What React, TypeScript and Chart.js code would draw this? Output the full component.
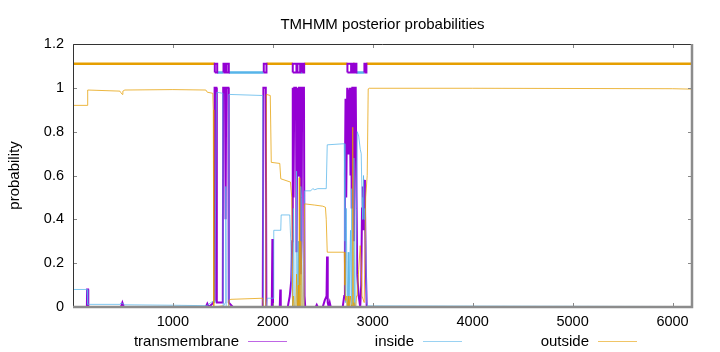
import { useEffect, useRef } from "react";
import { Chart, registerables } from "chart.js";

Chart.register(...registerables);

// ---------- text ----------
const chartTitle = "TMHMM posterior probabilities";
const yAxisTitle = "probability";
const seriesNames = ["transmembrane", "inside", "outside"];

// ---------- axes ----------
const xRange = [1, 6195];
const yRange = [0, 1.2];
const xTickValues = [1000, 2000, 3000, 4000, 5000, 6000];
const yTickValues = [0, 0.2, 0.4, 0.6, 0.8, 1, 1.2];
const yTickLabels = ["0", "0.2", "0.4", "0.6", "0.8", "1", "1.2"];

// ---------- posterior probability curves [position, probability] ----------
const tmCurve: [number, number][] = [
  [1, 0], [140, 0], [142, 0.08], [152, 0.08], [154, 0],
  [480, 0], [495, 0.02], [510, 0],
  [1330, 0], [1345, 0.015], [1360, 0], [1385, 0.01], [1405, 0.02], [1415, 0.03],
  [1418, 1.0], [1436, 1.0], [1440, 0.02],
  [1500, 0.02], [1504, 1.0], [1524, 1.0], [1528, 0.4], [1534, 1.0], [1556, 1.0], [1560, 0.02],
  [1600, 0], [1900, 0], [1906, 1.0], [1930, 1.0], [1936, 0],
  [1990, 0], [1996, 0.31], [2002, 0],
  [2070, 0], [2075, 0.08], [2080, 0],
  [2150, 0], [2170, 0.05], [2185, 0.12], [2195, 0.3], [2200, 1.0], [2208, 0.5], [2215, 1.0],
  [2232, 1.0], [2238, 0.25], [2247, 1.0], [2256, 0.6], [2262, 1.0], [2274, 1.0], [2280, 0.15],
  [2288, 0.3], [2294, 1.0], [2312, 1.0], [2318, 0.05], [2325, 0],
  [2430, 0], [2440, 0.01], [2450, 0],
  [2500, 0], [2520, 0.03], [2538, 0.05], [2543, 0.23], [2550, 0.02], [2560, 0], [2570, 0.02], [2580, 0],
  [2700, 0], [2715, 0.05], [2722, 0.6], [2728, 0.95], [2735, 0.5], [2745, 1.0], [2755, 0.7],
  [2762, 0.98], [2770, 1.0], [2778, 0.6], [2784, 1.0], [2790, 0.45], [2796, 1.0], [2806, 1.0],
  [2812, 0.3], [2818, 1.0], [2830, 1.0], [2838, 0.5], [2845, 0.15], [2860, 0.05], [2875, 0],
  [2885, 0.1], [2893, 0.45], [2900, 0.55], [2908, 0.35], [2915, 0.58], [2922, 0.5], [2930, 0.2],
  [2940, 0], [6195, 0],
];

const insideCurve: [number, number][] = [
  [1, 0.08], [142, 0.08], [148, 0.012], [470, 0.012], [480, 0.018], [500, 0.015], [520, 0.01],
  [1000, 0.008], [1340, 0.006], [1380, 0.02], [1415, 0.03], [1420, 0.02], [1436, 0.97],
  [1440, 0.98], [1500, 0.975], [1504, 0.0], [1525, 0.02], [1530, 0.55], [1534, 0.0], [1556, 0.0],
  [1560, 0.97], [1900, 0.965], [1906, 0.0], [1936, 0.0], [1945, 0.04], [2005, 0.04], [2010, 0.35],
  [2080, 0.35], [2084, 0.42], [2170, 0.42], [2180, 0.3], [2190, 0.1], [2200, 0], [2208, 0.45],
  [2215, 0.0], [2232, 0], [2238, 0.62], [2247, 0], [2256, 0.3], [2262, 0], [2274, 0], [2280, 0.55],
  [2288, 0.5], [2294, 0], [2312, 0], [2318, 0.53], [2380, 0.53], [2400, 0.54], [2420, 0.535],
  [2450, 0.54], [2535, 0.54], [2545, 0.74], [2715, 0.745], [2722, 0.3], [2728, 0.02], [2735, 0.45],
  [2745, 0], [2755, 0.25], [2762, 0], [2778, 0.35], [2784, 0], [2790, 0.54], [2796, 0], [2806, 0],
  [2812, 0.68], [2818, 0], [2830, 0], [2838, 0.45], [2845, 0.8], [2860, 0.78], [2875, 0.72],
  [2885, 0.7], [2893, 0.5], [2900, 0.4], [2908, 0.6], [2915, 0.4], [2922, 0.45], [2930, 0.3],
  [2940, 0.02], [2950, 0.005], [6195, 0.002],
];

const outsideCurve: [number, number][] = [
  [1, 0.92], [142, 0.92], [148, 0.99], [470, 0.985], [480, 0.978], [495, 0.97], [500, 0.985],
  [520, 0.99], [1000, 0.992], [1330, 0.99], [1345, 0.98], [1400, 0.975], [1405, 0.9], [1410, 0.0],
  [1500, 0.005], [1504, 0], [1556, 0], [1560, 0.03], [1580, 0.035], [1900, 0.04], [1906, 0],
  [1930, 0], [1936, 0.97], [1975, 0.965], [1985, 0.66], [2070, 0.655], [2080, 0.585], [2177, 0.57],
  [2190, 0.5], [2200, 0], [2208, 0.05], [2215, 0], [2232, 0], [2238, 0.15], [2247, 0], [2256, 0.1],
  [2262, 0], [2265, 0.59], [2270, 0.1], [2274, 0], [2280, 0.3], [2288, 0.2], [2294, 0], [2312, 0],
  [2318, 0.47], [2330, 0.47], [2420, 0.465], [2500, 0.46], [2527, 0.455], [2535, 0.4], [2545, 0.25],
  [2715, 0.25], [2722, 0.1], [2728, 0.03], [2735, 0.05], [2745, 0], [2755, 0.05], [2762, 0],
  [2778, 0.05], [2784, 0], [2790, 0.01], [2796, 0], [2800, 0.82], [2806, 0], [2812, 0.02], [2818, 0],
  [2830, 0], [2838, 0.05], [2845, 0.05], [2860, 0.17], [2875, 0.28], [2885, 0.2], [2893, 0.05],
  [2900, 0.05], [2915, 0.02], [2930, 0.5], [2945, 0.6], [2955, 0.995], [2965, 0.998], [4000, 0.998],
  [6000, 0.996], [6195, 0.994],
];

// ---------- predicted topology bar (segments [start, end]) ----------
const outsideLevel = 1.11;
const insideLevel = 1.07;
const outsideSegments: [number, number][] = [
  [1, 1420], [1937, 2200], [2317, 2747], [2807, 2817], [2937, 6195],
];
const insideSegments: [number, number][] = [
  [1444, 1507], [1560, 1910], [2280, 2294], [2837, 2917],
];
const tmSegments: [number, number][] = [
  [1420, 1444], [1507, 1527], [1537, 1560], [1910, 1937], [2200, 2237], [2247, 2274],
  [2294, 2314], [2747, 2784], [2790, 2807], [2817, 2837], [2917, 2937],
];

// ---------- colours ----------
const tmColor = "#9400d3";
const insideColor = "#56b4e9";
const outsideColor = "#e69f00";
const insideThin = "rgba(86,180,233,0.75)";
const outsideThin = "rgba(230,159,0,0.75)";
const FONT = "'Liberation Sans', Arial, sans-serif";

type Pt = { x: number; y: number | null };

const curvePoints = (c: [number, number][]): Pt[] => c.map(([x, y]) => ({ x, y }));
const levelPoints = (segs: [number, number][], level: number): Pt[] =>
  segs.flatMap(([a, b]) => [
    { x: a, y: level },
    { x: b, y: level },
    { x: b, y: null },
  ]);
const boxPoints = (segs: [number, number][], lo: number, hi: number): Pt[] =>
  segs.flatMap(([a, b]) => [
    { x: a, y: lo },
    { x: a, y: hi },
    { x: b, y: hi },
    { x: b, y: lo },
    { x: a, y: lo },
    { x: a, y: null },
  ]);

const decorPlugin = {
  id: "decor",
  afterDatasetsDraw(chart: any) {
    const { ctx, chartArea } = chart;
    const { left, right, top, bottom } = chartArea;
    const xs = chart.scales.x;
    const ys = chart.scales.y;
    ctx.save();
    // inward tick marks (mirrored)
    ctx.strokeStyle = "#888";
    ctx.lineWidth = 1;
    ctx.beginPath();
    for (const v of xTickValues) {
      const px = Math.round(xs.getPixelForValue(v)) + 0.5;
      ctx.moveTo(px, bottom);
      ctx.lineTo(px, bottom - 4);
      ctx.moveTo(px, top);
      ctx.lineTo(px, top + 4);
    }
    for (const v of yTickValues) {
      const py = Math.round(ys.getPixelForValue(v)) + 0.5;
      ctx.moveTo(left, py);
      ctx.lineTo(left + 4, py);
      ctx.moveTo(right, py);
      ctx.lineTo(right - 4, py);
    }
    ctx.stroke();
    // border: top & left dark, bottom & right grey heavy
    ctx.strokeStyle = "#333";
    ctx.lineWidth = 1;
    ctx.beginPath();
    ctx.moveTo(left + 0.5, bottom);
    ctx.lineTo(left + 0.5, top + 0.5);
    ctx.lineTo(right, top + 0.5);
    ctx.stroke();
    ctx.strokeStyle = "#8c8c8c";
    ctx.lineWidth = 2.5;
    ctx.beginPath();
    ctx.moveTo(left, bottom);
    ctx.lineTo(right, bottom);
    ctx.lineTo(right, top);
    ctx.stroke();
    ctx.restore();
  },
  afterDraw(chart: any) {
    const { ctx, chartArea } = chart;
    ctx.save();
    ctx.fillStyle = "#000";
    // title
    ctx.font = `15px ${FONT}`;
    ctx.textAlign = "center";
    ctx.textBaseline = "alphabetic";
    ctx.fillText(chartTitle, (chartArea.left + chartArea.right) / 2, 29);
    // y title
    ctx.save();
    ctx.translate(15, (chartArea.top + chartArea.bottom) / 2);
    ctx.rotate(-Math.PI / 2);
    ctx.textBaseline = "middle";
    ctx.fillText(yAxisTitle, 0, 0);
    ctx.restore();
    // legend
    const colors = [tmColor, insideColor, outsideColor];
    const textRight = [239, 414, 589];
    ctx.textAlign = "right";
    ctx.textBaseline = "alphabetic";
    seriesNames.forEach((name, i) => {
      ctx.fillStyle = "#000";
      ctx.fillText(name, textRight[i], 346);
      ctx.strokeStyle = colors[i];
      ctx.globalAlpha = 0.6;
      ctx.lineWidth = 1;
      ctx.beginPath();
      ctx.moveTo(textRight[i] + 9, 341.5);
      ctx.lineTo(textRight[i] + 48, 341.5);
      ctx.stroke();
      ctx.globalAlpha = 1;
    });
    ctx.restore();
  },
};

export default function App() {
  const canvasRef = useRef<HTMLCanvasElement | null>(null);

  useEffect(() => {
    if (!canvasRef.current) return;
    const common = { pointRadius: 0, tension: 0, spanGaps: false, fill: false };
    const chart = new Chart(canvasRef.current, {
      type: "line",
      data: {
        datasets: [
          { ...common, label: seriesNames[2], data: curvePoints(outsideCurve), borderColor: outsideThin, borderWidth: 1, order: 0 },
          { ...common, label: seriesNames[1], data: curvePoints(insideCurve), borderColor: insideThin, borderWidth: 1, order: 1 },
          { ...common, label: seriesNames[0], data: curvePoints(tmCurve), borderColor: tmColor, borderWidth: 2, order: 2 },
          { ...common, label: "tm-bar", data: boxPoints(tmSegments, insideLevel, outsideLevel), borderColor: tmColor, borderWidth: 2, order: 3 },
          { ...common, label: "in-bar", data: levelPoints(insideSegments, insideLevel), borderColor: insideColor, borderWidth: 2.5, order: 4 },
          { ...common, label: "out-bar", data: levelPoints(outsideSegments, outsideLevel), borderColor: outsideColor, borderWidth: 2.5, order: 5 },
        ],
      } as any,
      options: {
        animation: false,
        responsive: false,
        devicePixelRatio: 1,
        layout: { padding: { top: 44, right: 28, left: 0, bottom: 0 } },
        plugins: { legend: { display: false }, title: { display: false }, tooltip: { enabled: false } },
        events: [],
        scales: {
          x: {
            type: "linear",
            min: xRange[0],
            max: xRange[1],
            grid: { display: false, drawTicks: false },
            border: { display: false },
            afterBuildTicks: (s: any) => {
              s.ticks = xTickValues.map((v) => ({ value: v }));
            },
            afterFit: (s: any) => {
              s.height = 45;
            },
            ticks: {
              padding: 6,
              maxRotation: 0,
              autoSkip: false,
              color: "#000",
              font: { family: FONT, size: 14.5 },
              callback: (v: any) => String(v),
            },
          },
          y: {
            type: "linear",
            min: yRange[0],
            max: yRange[1],
            grid: { display: false, drawTicks: false },
            border: { display: false },
            afterBuildTicks: (s: any) => {
              s.ticks = yTickValues.map((v) => ({ value: v }));
            },
            afterFit: (s: any) => {
              s.width = 73;
            },
            ticks: {
              padding: 9,
              autoSkip: false,
              color: "#000",
              font: { family: FONT, size: 14.5 },
              callback: (v: any) => {
                const i = yTickValues.findIndex((t) => Math.abs(t - v) < 1e-9);
                return i >= 0 ? yTickLabels[i] : "";
              },
            },
          },
        },
      } as any,
      plugins: [decorPlugin],
    });
    return () => chart.destroy();
  }, []);

  return (
    <div style={{ position: "fixed", left: 0, top: 0, width: 720, height: 352, background: "#fff" }}>
      <canvas ref={canvasRef} width={720} height={352} style={{ width: 720, height: 352, display: "block" }} />
    </div>
  );
}
